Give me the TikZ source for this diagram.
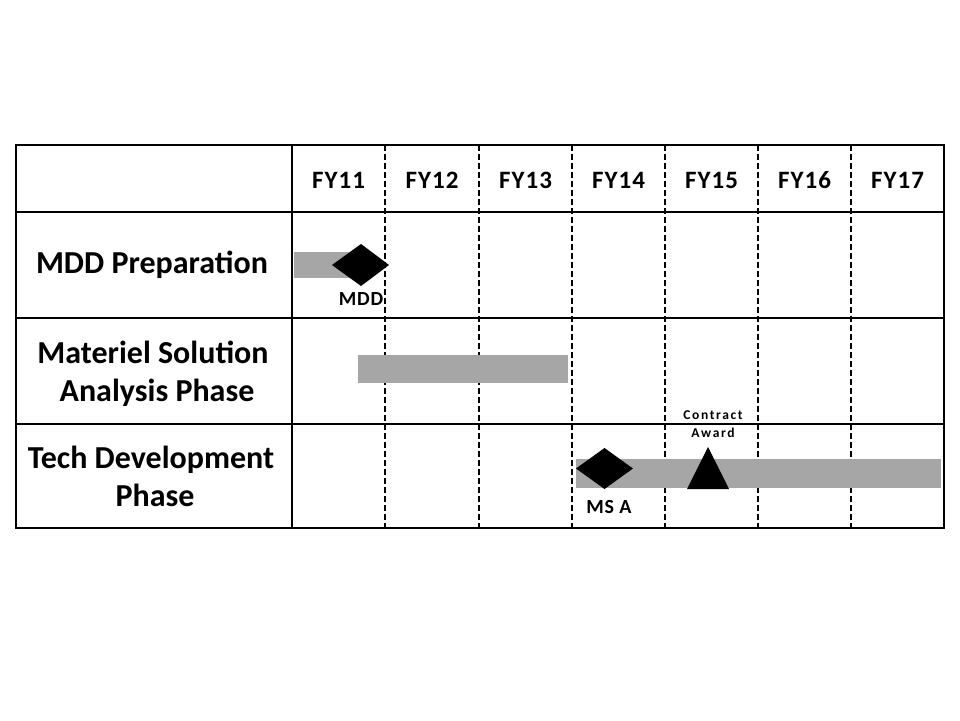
\documentclass[tikz,border=0pt]{standalone}
\usepackage{fontspec}
\setmainfont{Carlito}
\begin{document}
\begin{tikzpicture}[x=1pt,y=-1pt,
  grid/.style={line width=2.2pt, black},
  dashgrid/.style={line width=2pt, black, dash pattern=on 6pt off 3pt},
  bar/.style={fill=barGray, draw=none},
  marker/.style={fill=black, draw=none},
  rowlabel/.style={font=\fontsize{32}{38}\selectfont\bfseries, align=center, inner sep=0},
  yearlabel/.style={font=\fontsize{25}{29}\selectfont\bfseries\addfontfeatures{LetterSpace=4}, inner sep=0},
  mslabel/.style={font=\fontsize{20}{24}\selectfont\bfseries\addfontfeatures{LetterSpace=4}, inner sep=0},
  smalllabel/.style={font=\fontsize{13.5}{18}\selectfont\bfseries\addfontfeatures{LetterSpace=12}, align=center, inner sep=0}]
\definecolor{barGray}{HTML}{A6A6A6}
\useasboundingbox (0,0) rectangle (960,720);

% grid: outer frame, row separators, label column divider
\draw[grid] (16,145) rectangle (944,528);
\draw[grid] (16,212) -- (944,212);
\draw[grid] (16,318) -- (944,318);
\draw[grid] (16,424) -- (944,424);
\draw[grid] (292,145) -- (292,528);
% dashed year dividers
\foreach \x in {385,479,572,665,758,851}
  \draw[dashgrid] (\x,145) -- (\x,528);

% year headings
\foreach \x/\t [count=\i] in {338.5/FY11,432/FY12,525.5/FY13,618.5/FY14,711.5/FY15,804.5/FY16,897.5/FY17}
  \node[yearlabel] (fy\i) at (\x,180) {\t};

% row headings
\node[rowlabel] (rowMDD) at (152,265) {MDD Preparation};
\node[rowlabel] (rowMSA) at (153,374) {Materiel Solution\\\hspace*{0.25em}Analysis Phase};
\node[rowlabel] (rowTD)  at (151,476) {Tech Development\\\hspace*{0.25em}Phase};

% activity bars
\fill[bar] (294,252) rectangle (360,278);
\fill[bar] (358,355) rectangle (568,383);
\fill[bar] (576,459) rectangle (941,488);

% milestones
\fill[marker] (332,265) -- (361,244) -- (389,265) -- (361,286) -- cycle;
\node[mslabel] (mdd) at (361,299) {MDD};
\fill[marker] (576,468.5) -- (604.5,448) -- (633,468.5) -- (604.5,489) -- cycle;
\node[mslabel] (msa) at (609,507) {MS A};
\fill[marker] (708,447) -- (729,489) -- (687,489) -- cycle;
\node[smalllabel] (award) at (713,424) {Contract\\Award};
\end{tikzpicture}
\end{document}
